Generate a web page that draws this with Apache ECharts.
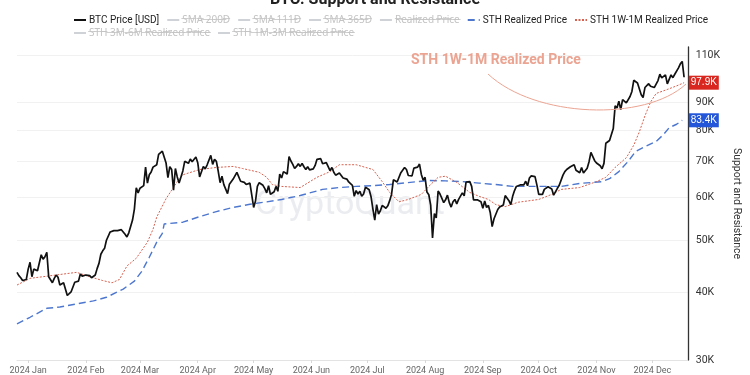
<!DOCTYPE html>
<html>
<head>
<meta charset="utf-8">
<title>BTC: Support and Resistance</title>
<script src="https://cdn.jsdelivr.net/npm/echarts@6/dist/echarts.min.js"></script>
<style>
  html, body { margin: 0; padding: 0; background: #fff; }
  #chart { width: 750px; height: 375px; }
</style>
</head>
<body>
<div id="chart"></div>
<script>
var monthNames = ['Jan', 'Feb', 'Mar', 'Apr', 'May', 'Jun', 'Jul', 'Aug', 'Sep', 'Oct', 'Nov', 'Dec'];

// daily categories, 26 Dec 2023 .. 20 Dec 2024
var dates = [];
var d = new Date(Date.UTC(2023, 11, 26));
while (d.getTime() <= Date.UTC(2024, 11, 20)) {
    dates.push(d.toISOString().slice(0, 10));
    d.setUTCDate(d.getUTCDate() + 1);
}

// BTC price, thousands USD, one value per day from 26 Dec 2023
var btcPrice = [
    43.6, 43.0, 42.6, 42.1, 42.3, 42.3,
    // Jan
    44.2, 45.5, 42.8, 44.2, 44.1, 43.9, 43.9, 47.0, 46.1, 46.6, 47.5, 42.8, 42.8, 41.7, 42.5, 43.1,
    42.7, 41.3, 41.6, 41.7, 41.6, 39.5, 39.2, 40.1, 39.9, 41.8, 42.1, 42.0, 43.3, 42.9, 42.6,
    // Feb
    43.1, 43.2, 43.0, 42.6, 42.7, 43.1, 44.3, 45.3, 47.1, 47.8, 48.3, 50.0, 49.7, 51.8, 52.0,
    52.1, 51.7, 52.1, 51.8, 52.3, 51.9, 51.3, 50.7, 51.6, 51.7, 54.5, 57.1, 62.5, 61.2,
    // Mar
    62.4, 62.0, 63.1, 68.3, 63.8, 66.1, 66.9, 68.3, 68.5, 69.0, 72.1, 71.5, 73.1, 72.7, 69.5, 65.3,
    68.4, 67.6, 61.9, 67.9, 65.5, 63.8, 64.0, 67.2, 70.0, 69.9, 69.4, 70.7, 69.9, 69.6, 71.3,
    // Apr
    69.6, 65.5, 65.9, 68.5, 67.8, 68.9, 69.4, 71.8, 69.1, 70.6, 70.0, 67.1, 63.9, 65.7, 63.4,
    63.8, 61.0, 63.5, 63.8, 64.9, 64.9, 66.8, 66.4, 64.3, 64.5, 64.0, 63.4, 63.1, 63.8, 60.6,
    // May
    57.5, 59.1, 62.9, 63.9, 64.0, 63.2, 62.3, 61.2, 63.1, 60.8, 60.8, 61.5, 62.9, 61.6, 66.3, 65.2,
    67.0, 66.9, 66.3, 71.4, 70.1, 69.1, 67.9, 68.5, 69.3, 68.5, 69.4, 68.4, 67.6, 68.4, 67.5,
    // Jun
    67.8, 67.8, 68.8, 70.6, 71.1, 70.8, 69.3, 69.3, 69.6, 69.5, 67.3, 68.2, 66.8, 66.0, 66.2,
    66.6, 66.5, 65.2, 65.0, 64.9, 64.1, 64.3, 63.2, 60.3, 61.8, 60.9, 61.6, 60.3, 60.9, 62.7,
    // Jul
    62.9, 62.0, 60.2, 57.1, 54.5, 58.2, 55.9, 56.7, 58.0, 57.7, 57.3, 57.9, 59.2, 60.8, 64.7, 65.0,
    64.1, 64.0, 66.7, 67.2, 68.2, 67.6, 65.9, 65.4, 65.8, 68.0, 68.0, 68.3, 69.2, 66.2, 64.6,
    // Aug
    65.4, 61.4, 60.7, 58.1, 50.5, 56.0, 55.0, 61.7, 60.9, 60.9, 58.7, 59.4, 60.6, 58.7, 57.6, 58.9,
    59.5, 58.4, 59.5, 59.0, 61.2, 60.4, 64.1, 64.2, 64.2, 62.9, 59.4, 59.0, 59.4, 59.1, 58.9,
    // Sep
    57.3, 59.1, 57.5, 58.0, 56.2, 53.0, 54.8, 54.9, 57.0, 57.6, 57.3, 58.1, 60.5, 60.0, 59.2,
    58.2, 60.3, 61.8, 62.9, 63.2, 63.3, 63.6, 63.3, 64.3, 63.1, 65.2, 65.8, 65.9, 65.6, 63.3,
    // Oct
    60.8, 60.6, 60.8, 62.1, 62.1, 62.8, 62.3, 62.2, 60.6, 60.3, 62.4, 63.2, 62.8, 66.0, 67.0, 67.6,
    67.4, 68.4, 68.4, 69.0, 67.4, 67.4, 66.7, 68.2, 66.6, 67.0, 68.0, 69.9, 72.7, 72.3, 70.2,
    // Nov
    69.5, 69.3, 68.7, 67.8, 69.4, 75.6, 75.9, 76.5, 76.7, 80.5, 88.7, 87.9, 90.5, 87.3, 91.1,
    90.6, 89.8, 90.5, 92.3, 94.3, 98.9, 98.3, 97.8, 98.0, 93.0, 91.9, 95.9, 95.6, 97.5, 96.4,
    // Dec
    97.2, 95.9, 96.0, 98.8, 101.5, 99.9, 99.9, 101.2, 97.4, 96.7, 101.2, 100.0, 101.5, 101.4,
    104.3, 106.1, 107.2, 100.2
];

// STH realized price (thousands)
var sthDates = ['2023-12-26', '2024-01-02', '2024-01-11', '2024-01-18', '2024-01-27', '2024-02-05',
    '2024-02-12', '2024-02-21', '2024-02-27', '2024-03-02', '2024-03-06', '2024-03-10', '2024-03-13',
    '2024-03-14', '2024-03-24', '2024-04-02', '2024-04-11', '2024-04-20', '2024-04-29', '2024-05-08',
    '2024-05-16', '2024-05-26', '2024-06-07', '2024-06-16', '2024-06-25', '2024-07-04', '2024-07-13',
    '2024-07-22', '2024-08-03', '2024-08-12', '2024-08-21', '2024-08-30', '2024-09-08', '2024-09-17',
    '2024-10-01', '2024-10-13', '2024-10-23', '2024-11-04', '2024-11-08', '2024-11-13', '2024-11-18',
    '2024-11-22', '2024-11-27', '2024-12-03', '2024-12-07', '2024-12-10', '2024-12-14', '2024-12-17'];
var sthValues = [35.0, 36.0, 37.4, 37.6, 38.1, 38.6,
    39.2, 40.6, 42.0, 43.8, 46.5, 49.6, 51.5,
    53.6, 54.0, 55.3, 56.5, 57.5, 58.3, 58.9,
    59.5, 60.5, 62.1, 62.6, 62.9, 63.1, 63.4,
    63.9, 64.5, 64.4, 64.2, 63.8, 63.4, 62.9,
    62.9, 62.9, 63.7, 64.2, 65.0, 67.0, 70.0,
    73.0, 74.5, 76.2, 78.5, 80.8, 82.0, 83.4];

// STH 1W-1M realized price (thousands)
var sth1w1mDates = ['2023-12-26', '2024-01-02', '2024-01-09', '2024-01-18', '2024-01-27', '2024-02-03',
    '2024-02-10', '2024-02-15', '2024-02-19', '2024-02-23', '2024-02-28', '2024-03-05', '2024-03-08',
    '2024-03-10', '2024-03-15', '2024-03-21', '2024-03-24', '2024-04-02', '2024-04-11', '2024-04-20',
    '2024-04-25', '2024-05-04', '2024-05-08', '2024-05-11', '2024-05-16', '2024-05-26', '2024-06-04',
    '2024-06-11', '2024-06-16', '2024-06-25', '2024-07-04', '2024-07-09', '2024-07-13', '2024-07-18',
    '2024-07-23', '2024-07-30', '2024-08-03', '2024-08-08', '2024-08-12', '2024-08-18', '2024-08-25',
    '2024-08-30', '2024-09-04', '2024-09-08', '2024-09-13', '2024-09-20', '2024-10-01', '2024-10-08',
    '2024-10-13', '2024-10-23', '2024-11-01', '2024-11-06', '2024-11-11', '2024-11-17', '2024-11-21',
    '2024-11-24', '2024-11-27', '2024-11-30', '2024-12-03', '2024-12-10', '2024-12-15', '2024-12-18'];
var sth1w1mValues = [41.3, 42.5, 42.8, 43.2, 43.6, 42.8,
    42.1, 41.7, 42.3, 44.8, 46.3, 49.6, 52.4,
    55.2, 59.7, 64.2, 66.1, 67.6, 68.2, 68.5,
    67.9, 66.8, 65.4, 63.4, 62.9, 62.6, 65.4,
    67.0, 69.0, 69.0, 67.6, 64.2, 61.3, 58.9,
    59.5, 60.8, 62.9, 65.4, 65.7, 64.0, 61.3,
    60.3, 59.5, 58.2, 57.7, 58.8, 59.5, 60.8,
    62.1, 62.6, 64.2, 65.4, 68.2, 71.1, 75.0,
    79.4, 85.0, 90.1, 93.5, 95.4, 96.9, 97.9];

var yTicks = [30, 40, 50, 60, 70, 80, 90, 110];
var latestSth = 83.4;
var latestSth1w1m = 97.9;

var legendRow1 = ['BTC Price [USD]', 'SMA 200D', 'SMA 111D', 'SMA 365D', 'Realized Price', 'STH Realized Price', 'STH 1W-1M Realized Price'];
var legendRow2 = ['STH 3M-6M Realized Price', 'STH 1M-3M Realized Price'];
var hidden = ['SMA 200D', 'SMA 111D', 'SMA 365D', 'Realized Price', 'STH 3M-6M Realized Price', 'STH 1M-3M Realized Price'];

// log scale by hand: plot ln(price)
function lg(k) { return Math.log(k * 1000); }
function pairs(ds, vs) { return ds.map(function (x, i) { return [x, lg(vs[i])]; }); }

var selected = {};
hidden.forEach(function (n) { selected[n] = false; });

function strike(name) {
    if (hidden.indexOf(name) < 0) return name;
    return name.split('').map(function (c) { return c + '\u0336'; }).join('');
}

function isMonthStart(idx, value) { return value.slice(8) === '01' && value.slice(0, 4) === '2024'; }

var lastDate = dates[dates.length - 1];

function endTag(val, color) {
    return {
        symbol: 'rect',
        symbolSize: [30, 14],
        symbolOffset: [16, 0],
        silent: true,
        itemStyle: {color: color},
        label: {show: true, position: 'inside', color: '#fff', fontSize: 10, formatter: val.toFixed(1) + 'K'},
        data: [{coord: [lastDate, lg(val)]}]
    };
}

function emptySeries(name, color, type) {
    return {name: name, type: 'line', data: [], symbol: 'none', lineStyle: {color: color, width: 1.2, type: type}, itemStyle: {color: color}};
}

var legendBase = {
    left: 68,
    width: 700,
    itemWidth: 12,
    itemHeight: 8,
    itemGap: 7,
    selected: selected,
    inactiveColor: '#c4c4c4',
    itemStyle: {opacity: 0},
    textStyle: {fontSize: 10, color: '#222', fontFamily: 'Roboto, "Noto Sans", "DejaVu Sans", sans-serif', padding: [0, 0, 0, -2]},
    formatter: strike
};

var option = {
    animation: false,
    title: {
        text: 'BTC: Support and Resistance',
        left: 'center',
        top: -13,
        textStyle: {fontSize: 16, fontWeight: 'bold', color: '#222', fontFamily: 'Roboto'}
    },
    legend: [
        Object.assign({}, legendBase, {top: 10, data: legendRow1}),
        Object.assign({}, legendBase, {top: 23, data: legendRow2})
    ],
    grid: {left: 17, right: 61, top: 47, bottom: 14},
    xAxis: {
        type: 'category',
        data: dates,
        boundaryGap: false,
        axisLine: {lineStyle: {color: '#e3e3e3'}},
        axisTick: {show: true, interval: isMonthStart, length: 3, lineStyle: {color: '#d8d8d8'}},
        axisLabel: {
            interval: isMonthStart,
            fontSize: 9,
            color: '#666',
            margin: 6,
            fontFamily: 'Roboto',
            formatter: function (v) { return v.slice(0, 4) + ' ' + monthNames[+v.slice(5, 7) - 1]; }
        },
        splitLine: {show: false}
    },
    yAxis: {
        type: 'value',
        position: 'right',
        min: lg(30),
        max: lg(114),
        name: 'Support and Resistance',
        nameLocation: 'middle',
        nameRotate: -90,
        nameGap: 38,
        nameTextStyle: {fontSize: 10.5, color: '#333', fontFamily: 'Roboto'},
        axisLine: {show: true, lineStyle: {color: '#333', width: 1.3}},
        axisTick: {show: false, customValues: yTicks.map(lg)},
        axisLabel: {
            customValues: yTicks.map(lg),
            fontSize: 10.5,
            color: '#333',
            margin: 8,
            fontFamily: 'Roboto',
            formatter: function (v) { return Math.round(Math.exp(v) / 1000) + 'K'; }
        },
        splitLine: {show: true, lineStyle: {color: '#f1f1f1'}}
    },
    graphic: [
        {
            type: 'text', left: 255, top: 188, silent: true, z: 0,
            style: {text: 'CryptoQuant', fontSize: 34, fontFamily: 'Roboto', fill: 'rgba(160,168,185,0.22)'}
        },
        {
            type: 'text', left: 411, top: 53, silent: true, z: 10,
            style: {text: 'STH 1W-1M Realized Price', fontSize: 14, fontWeight: 'bold', fontFamily: 'Roboto', fill: '#eba492'}
        },
        {
            type: 'bezierCurve', silent: true, z: 10,
            shape: {x1: 488, y1: 74, cpx1: 535, cpy1: 118, cpx2: 645, cpy2: 122, x2: 686, y2: 84},
            style: {stroke: '#eba492', lineWidth: 1, fill: null}
        }
    ],
    series: [
        {
            name: 'BTC Price [USD]', type: 'line', data: btcPrice.map(lg), symbol: 'none', z: 5,
            lineStyle: {color: '#111', width: 1.7}, itemStyle: {color: '#111'}
        },
        emptySeries('SMA 200D', '#888', 'solid'),
        emptySeries('SMA 111D', '#888', 'solid'),
        emptySeries('SMA 365D', '#888', 'solid'),
        emptySeries('Realized Price', '#888', [4, 2, 1, 2]),
        {
            name: 'STH Realized Price', type: 'line', data: pairs(sthDates, sthValues), symbol: 'none', z: 4,
            lineStyle: {color: '#4d77cf', width: 1.4, type: [7, 4]}, itemStyle: {color: '#4d77cf'},
            markPoint: endTag(latestSth, '#2356d8')
        },
        {
            name: 'STH 1W-1M Realized Price', type: 'line', data: pairs(sth1w1mDates, sth1w1mValues), symbol: 'none', z: 4,
            lineStyle: {color: '#d8604f', width: 1, type: [2, 1.5]}, itemStyle: {color: '#d8604f'},
            markPoint: endTag(latestSth1w1m, '#d9261f')
        },
        emptySeries('STH 3M-6M Realized Price', '#888', [1, 2]),
        emptySeries('STH 1M-3M Realized Price', '#888', [1, 2])
    ]
};

var chart = echarts.init(document.getElementById('chart'));
chart.setOption(option);
</script>
</body>
</html>
